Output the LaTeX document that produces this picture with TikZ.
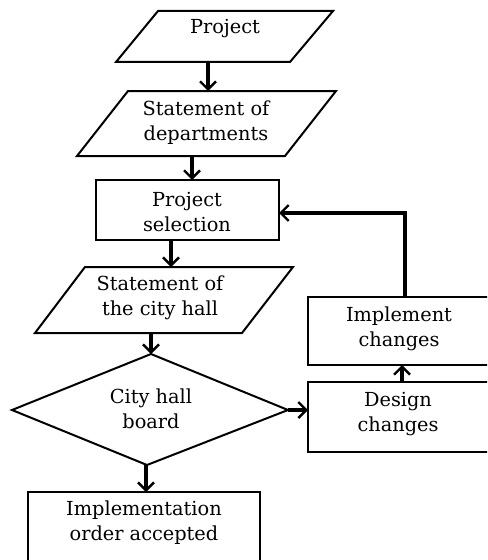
\documentclass[tikz,border=0pt]{standalone}
\usepackage{fontspec}
\setmainfont{DejaVu Serif}
\usetikzlibrary{arrows.meta}
\tikzset{
  shapeline/.style={draw=black, line width=1.5pt, line join=miter},
  conn/.style={draw=black, line width=2.3pt, line join=miter, -{Straight Barb[length=6pt,width=12pt,line width=1.8pt]}},
  lbl/.style={align=center, inner sep=0pt, font=\fontsize{14.5}{18.75}\selectfont, text=black}
}
\begin{document}
\begin{tikzpicture}[x=0.75pt, y=-0.75pt]
\useasboundingbox (0,0) rectangle (487,560);
\clip (0,0) rectangle (487,560);
% Project
\draw[shapeline] (158,11) -- (333,11) -- (290,62) -- (116,62) -- cycle;
\node[lbl] (proj) at (225,29) {Project};
\coordinate (projB) at (208,62);
% Statement of departments
\draw[shapeline] (128,91) -- (336,91) -- (285,156) -- (77,156) -- cycle;
\node[lbl] (dept) at (206,123) {Statement of\\departments};
\coordinate (deptT) at (208,91);
\coordinate (deptB) at (192,156);
% Project selection
\draw[shapeline] (96,180) rectangle (279,240);
\node[lbl] (sel) at (187,212) {Project\\selection};
\coordinate (selT) at (192,180);
\coordinate (selB) at (171,240);
\coordinate (selR) at (279,213);
% Statement of the city hall
\draw[shapeline] (85,267) -- (293,267) -- (242,333) -- (35,333) -- cycle;
\node[lbl] (city) at (160,298) {Statement of\\the city hall};
\coordinate (cityT) at (171,267);
\coordinate (cityB) at (151,333);
% Diamond
\draw[shapeline] (151,354) -- (288,410) -- (147,465) -- (12,410) -- cycle;
\node[lbl] (board) at (151,409) {City hall\\board};
\coordinate (boardT) at (151,354);
\coordinate (boardR) at (288,410);
\coordinate (boardB) at (146,465);
% Design changes
\draw[shapeline] (308,382) rectangle (500,452);
\node[lbl] (design) at (398,414) {Design\\changes};
\coordinate (designL) at (308,410);
\coordinate (designT) at (402,382);
% Implement changes
\draw[shapeline] (308,297) rectangle (500,365);
\node[lbl] (impl) at (399,329) {Implement\\changes};
\coordinate (implB) at (402,365);
\coordinate (implT) at (405,297);
% Implementation order accepted
\draw[shapeline] (28,492) rectangle (260,580);
\node[lbl] (order) at (144,523) {Implementation\\order accepted};
\coordinate (orderT) at (146,492);
% connectors
\draw[conn] (projB) -- (deptT);
\draw[conn] (deptB) -- (selT);
\draw[conn] (selB) -- (cityT);
\draw[conn] (cityB) -- (boardT);
\draw[conn] (boardR) -- (designL);
\draw[conn] (designT) -- (implB);
\draw[conn] (boardB) -- (orderT);
\draw[conn] (implT) |- (selR);
\end{tikzpicture}
\end{document}
